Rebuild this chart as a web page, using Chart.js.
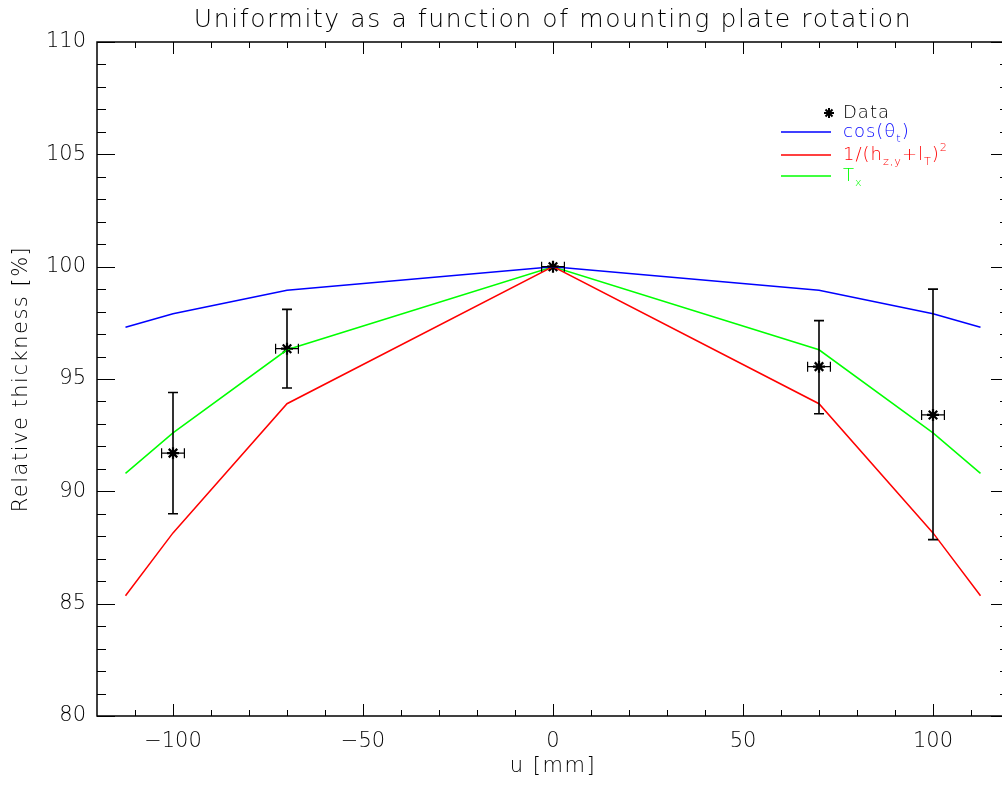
<!DOCTYPE html>
<html>
<head>
<meta charset="utf-8">
<script src="https://cdn.jsdelivr.net/npm/chart.js@4"></script>
<style>
  body { margin: 0; background: #fff; overflow: hidden; }
  #wrap { width: 1010px; height: 785px; }
</style>
</head>
<body>
<div id="wrap"><canvas id="uniformity"></canvas></div>
<script>
// model curves (u in mm)
var modelU = [-112.5, -100, -70, 0, 70, 100, 112.5];
var cosTheta = [97.3, 97.9, 98.95, 100, 98.95, 97.9, 97.3];
var invDist = [85.35, 88.15, 93.9, 100, 93.9, 88.15, 85.35];
var tx = [90.8, 92.6, 96.3, 100, 96.3, 92.6, 90.8];

// measured points
var dataU = [-100, -70, 0, 70, 100];
var dataVal = [91.7, 96.35, 100, 95.55, 93.4];
var dataLo = [89.0, 94.6, 100, 93.45, 87.85];
var dataHi = [94.4, 98.1, 100, 97.6, 99.0];
var dataUErr = [3, 3, 3, 3, 3];

var xTicks = [-100, -50, 0, 50, 100];
var yTicks = [80, 85, 90, 95, 100, 105, 110];

var FONT = '"DejaVu Sans", sans-serif';
var W = '200 ';

function pts(xs, ys) {
    return xs.map(function(x, i){ return {x: x, y: ys[i]}; });
}

// draws text pieces with sub/superscripts
function drawRich(ctx, parts, x, y, size, color) {
    ctx.fillStyle = color;
    ctx.textBaseline = 'middle';
    ctx.textAlign = 'left';
    parts.forEach(function(p){
        var s = p.sub || p.sup ? size * 0.62 : size;
        var dy = p.sub ? size * 0.38 : (p.sup ? -size * 0.4 : 0);
        ctx.font = W + s + 'px ' + FONT;
        ctx.fillText(p.t, x, y + dy);
        x += ctx.measureText(p.t).width;
    });
    return x;
}

var framePlugin = {
    id: 'frame',
    afterDatasetsDraw: function(chart) {
        var ctx = chart.ctx, a = chart.chartArea;
        var xs = chart.scales.x, ys = chart.scales.y;
        ctx.save();

        // error bars
        ctx.strokeStyle = '#000';
        dataU.forEach(function(u, i){
            var px = xs.getPixelForValue(u);
            var py = ys.getPixelForValue(dataVal[i]);
            var top = ys.getPixelForValue(dataHi[i]);
            var bot = ys.getPixelForValue(dataLo[i]);
            var l = xs.getPixelForValue(u - dataUErr[i]);
            var r = xs.getPixelForValue(u + dataUErr[i]);
            ctx.lineWidth = 1.6;
            ctx.beginPath();
            ctx.moveTo(px, top); ctx.lineTo(px, bot);
            ctx.moveTo(px - 5, top); ctx.lineTo(px + 5, top);
            ctx.moveTo(px - 5, bot); ctx.lineTo(px + 5, bot);
            ctx.stroke();
            ctx.lineWidth = 1.2;
            ctx.beginPath();
            ctx.moveTo(l, py); ctx.lineTo(r, py);
            ctx.moveTo(l, py - 5); ctx.lineTo(l, py + 5);
            ctx.moveTo(r, py - 5); ctx.lineTo(r, py + 5);
            ctx.stroke();
        });

        // box
        ctx.lineWidth = 1.5;
        ctx.strokeRect(a.left, a.top, a.right - a.left, a.bottom - a.top);

        // inward ticks, mirrored on all sides
        ctx.lineWidth = 1;
        ctx.beginPath();
        for (var v = -110; v <= 110; v += 10) {
            var px = Math.round(xs.getPixelForValue(v)) + 0.5;
            var len = (v % 50 === 0) ? 12 : 6;
            ctx.moveTo(px, a.bottom); ctx.lineTo(px, a.bottom - len);
            ctx.moveTo(px, a.top); ctx.lineTo(px, a.top + len);
        }
        for (var w = 80; w <= 110; w += 1) {
            var py = Math.round(ys.getPixelForValue(w)) + 0.5;
            var l2 = (w % 5 === 0) ? 18 : 9;
            ctx.moveTo(a.left, py); ctx.lineTo(a.left + l2, py);
            ctx.moveTo(a.right, py); ctx.lineTo(a.right - l2, py);
        }
        ctx.stroke();

        // title and axis titles
        var cx = (a.left + a.right) / 2;
        ctx.fillStyle = '#000';
        ctx.textAlign = 'center';
        ctx.textBaseline = 'middle';
        ctx.font = W + '25px ' + FONT;
        ctx.letterSpacing = '1.6px';
        ctx.fillText('Uniformity as a function of mounting plate rotation', cx, 20);
        ctx.font = W + '21px ' + FONT;
        ctx.letterSpacing = '1.5px';
        ctx.fillText('u [mm]', cx, 767);
        ctx.save();
        ctx.translate(22, (a.top + a.bottom) / 2);
        ctx.rotate(-Math.PI / 2);
        ctx.fillText('Relative thickness [%]', 0, 0);
        ctx.restore();
        ctx.letterSpacing = '1px';

        // legend
        var lx = 781, tx0 = 843;
        ctx.lineWidth = 2;
        ctx.strokeStyle = '#000';
        var sx = 829, sy = 113, r = 5;
        ctx.beginPath();
        ctx.moveTo(sx - r, sy); ctx.lineTo(sx + r, sy);
        ctx.moveTo(sx, sy - r); ctx.lineTo(sx, sy + r);
        ctx.moveTo(sx - r * 0.7, sy - r * 0.7); ctx.lineTo(sx + r * 0.7, sy + r * 0.7);
        ctx.moveTo(sx - r * 0.7, sy + r * 0.7); ctx.lineTo(sx + r * 0.7, sy - r * 0.7);
        ctx.stroke();
        drawRich(ctx, [{t: 'Data'}], tx0, sy, 18, '#000');

        var rows = [
            {y: 132, c: '#0000ff', parts: [{t: 'cos(θ'}, {t: 't', sub: true}, {t: ')'}]},
            {y: 155, c: '#ff0000', parts: [{t: '1/(h'}, {t: 'z,y', sub: true}, {t: '+l'}, {t: 'T', sub: true}, {t: ')'}, {t: '2', sup: true}]},
            {y: 176, c: '#00ff00', parts: [{t: 'T'}, {t: 'x', sub: true}]}
        ];
        rows.forEach(function(row){
            ctx.strokeStyle = row.c;
            ctx.lineWidth = 1.5;
            ctx.beginPath();
            ctx.moveTo(lx, row.y); ctx.lineTo(831, row.y);
            ctx.stroke();
            drawRich(ctx, row.parts, tx0, row.y, 18, row.c);
        });
        ctx.restore();
    }
};

var chart = new Chart(document.getElementById('uniformity'), {
    type: 'line',
    data: {
        datasets: [
            { label: 'cos', data: pts(modelU, cosTheta), borderColor: '#0000ff', borderWidth: 1.5, pointRadius: 0, tension: 0 },
            { label: 'inv', data: pts(modelU, invDist), borderColor: '#ff0000', borderWidth: 1.5, pointRadius: 0, tension: 0 },
            { label: 'Tx', data: pts(modelU, tx), borderColor: '#00ff00', borderWidth: 1.5, pointRadius: 0, tension: 0 },
            { label: 'Data', data: pts(dataU, dataVal), showLine: false, pointStyle: 'star',
              pointRadius: 6, borderColor: '#000', backgroundColor: '#000', pointBorderWidth: 2.2 }
        ]
    },
    options: {
        responsive: true,
        maintainAspectRatio: false,
        animation: false,
        layout: { autoPadding: false, padding: { top: 42, right: 1, left: 0, bottom: 0 } },
        plugins: { legend: { display: false }, tooltip: { enabled: false } },
        scales: {
            x: {
                type: 'linear', min: -120, max: 120,
                grid: { display: false, drawTicks: false },
                border: { display: false },
                afterBuildTicks: function(s){ s.ticks = xTicks.map(function(v){ return {value: v}; }); },
                afterFit: function(s){ s.height = 69; },
                ticks: {
                    color: '#000', padding: 13, maxRotation: 0,
                    font: { family: FONT, size: 21, weight: 200 },
                    callback: function(v){ return v < 0 ? '\u2212' + Math.abs(v) : '' + v; }
                }
            },
            y: {
                min: 80, max: 110,
                grid: { display: false, drawTicks: false },
                border: { display: false },
                afterBuildTicks: function(s){ s.ticks = yTicks.map(function(v){ return {value: v}; }); },
                afterFit: function(s){ s.width = 97; },
                ticks: { color: '#000', padding: 11, font: { family: FONT, size: 21, weight: 200 } }
            }
        }
    },
    plugins: [framePlugin]
});
</script>
</body>
</html>
